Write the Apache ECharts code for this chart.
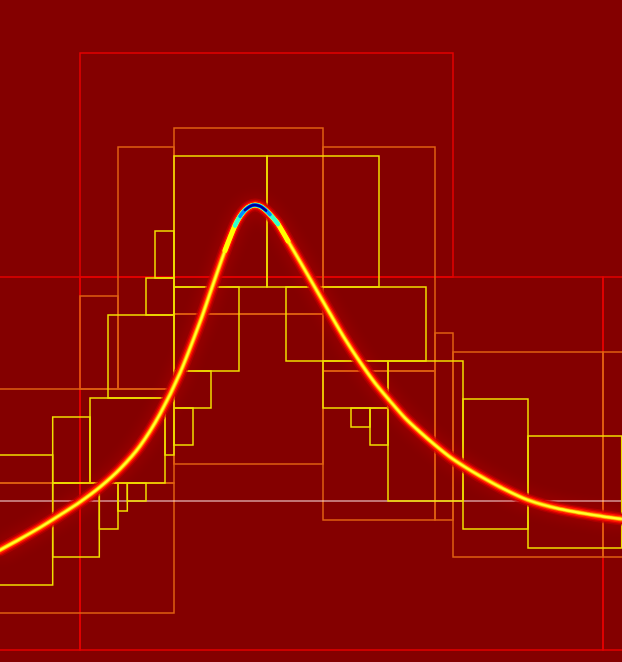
<!DOCTYPE html>
<html>
<head>
<meta charset="utf-8">
<script src="https://cdn.jsdelivr.net/npm/echarts@6/dist/echarts.min.js"></script>
<style>
html,body{margin:0;padding:0;background:#840000;}
#chart{width:622px;height:662px;}
</style>
</head>
<body>
<div id="chart"></div>
<script>
// Curve (density ridge): x, y in plot units (y grows downward)
const curveX = [0, 20, 40, 60, 80, 100, 120, 140, 160, 180, 200, 212, 225, 235, 240, 245, 250, 255, 259, 262, 266, 270, 274, 278, 288, 300, 315, 330, 345, 360, 375, 390, 405, 420, 435, 450, 465, 480, 500, 528, 560, 603, 622];
const curveY = [550, 539, 527.5, 515, 502, 487, 469, 446, 414, 373, 322, 287.5, 250.5, 225.5, 216.3, 210, 206.3, 205, 205.8, 207.3, 210.5, 214.5, 219, 224, 241, 261.5, 287.5, 313.5, 339, 362, 383, 401, 418, 432, 445, 457, 467, 476, 487, 500, 509, 516.5, 519];

// Partition boxes [x0, y0, x1, y1] by tree depth
const depth1Boxes = [
  [80, 53, 453, 277], [80, 277, 603, 650], [-20, 277, 80, 650], [603, 277, 650, 650]
];
const depth2Boxes = [
  [174, 128, 323, 314], [174, 314, 323, 464], [118, 147, 174, 389], [80, 296, 118, 389],
  [-20, 389, 174, 483], [-20, 483, 174, 613], [323, 147, 435, 371], [323, 371, 435, 520],
  [435, 333, 453, 520], [453, 352, 603, 557], [603, 352, 650, 557]
];
const depth3Boxes = [
  [174, 156, 267, 287], [267, 156, 379, 287], [155, 231, 174, 278], [146, 278, 174, 315],
  [108, 315, 174, 398], [90, 398, 165, 483], [165, 398, 174, 455], [52.7, 417, 90, 483],
  [-20, 455, 52.7, 585], [52.7, 483, 99.3, 557], [99.3, 483, 118, 529], [118, 483, 127.3, 511],
  [127.3, 483, 146, 501], [174, 287, 239, 371], [174, 371, 211, 408], [174, 408, 193, 445],
  [286, 287, 426, 361], [323, 361, 388, 408], [351, 408, 370, 427], [370, 408, 388, 445],
  [388, 361, 463, 501], [463, 399, 528, 529], [528, 436, 621.7, 548]
];
const depth4Boxes = [
  [-20, 501, 650, 720]
];

const curve = curveX.map((x, i) => [x, curveY[i]]);
const slice = (lo, hi) => curve.filter(p => p[0] >= lo && p[0] <= hi);

function boxRenderer(color, width) {
  return function (params, api) {
    const p1 = api.coord([api.value(0), api.value(1)]);
    const p2 = api.coord([api.value(2), api.value(3)]);
    return {
      type: 'rect',
      shape: {
        x: Math.min(p1[0], p2[0]), y: Math.min(p1[1], p2[1]),
        width: Math.abs(p2[0] - p1[0]), height: Math.abs(p2[1] - p1[1])
      },
      style: { fill: 'none', stroke: color, lineWidth: width }
    };
  };
}
function boxSeries(data, color, width) {
  return {
    type: 'custom', data: data, clip: true, silent: true,
    encode: { x: [0, 2], y: [1, 3] },
    renderItem: boxRenderer(color, width)
  };
}
function curveLayer(data, color, width, extra) {
  return {
    type: 'line', data: data, showSymbol: false, silent: true,
    smooth: 0.3,
    lineStyle: Object.assign({ color: color, width: width, cap: 'round', join: 'round' }, extra || {})
  };
}

const chart = echarts.init(document.getElementById('chart'));
chart.setOption({
  animation: false,
  backgroundColor: '#840000',
  grid: { left: 0, right: 0, top: 0, bottom: 0 },
  xAxis: { type: 'value', min: 0, max: 622, show: false },
  yAxis: { type: 'value', min: 0, max: 662, inverse: true, show: false },
  series: [
    curveLayer(curve, 'rgba(190,0,0,0.6)', 13, { shadowBlur: 16, shadowColor: 'rgba(255,0,0,0.45)' }),
    curveLayer(curve, '#d80000', 10),
    curveLayer(curve, '#ff1800', 7.5),
    curveLayer(curve, '#ff7a00', 4.8),
    curveLayer(curve, '#ffd800', 3.2),
    curveLayer(curve, '#ffff30', 1.8),
    curveLayer(slice(225, 288), '#ffff00', 5),
    curveLayer(slice(229, 284), '#b0ff50', 4.6),
    curveLayer(slice(234, 279), '#30ffd0', 4.2),
    curveLayer(slice(238, 272), '#0090ff', 3.6),
    curveLayer(slice(242, 268), '#0010e0', 2.8),
    curveLayer(slice(245, 266), '#000090', 2),
    boxSeries(depth1Boxes, '#e40000', 1.5),
    boxSeries(depth2Boxes, '#e06010', 1.5),
    boxSeries(depth4Boxes, '#ffe8e8', 1.2),
    boxSeries(depth3Boxes, '#f0e000', 1.5)
  ]
});
</script>
</body>
</html>
